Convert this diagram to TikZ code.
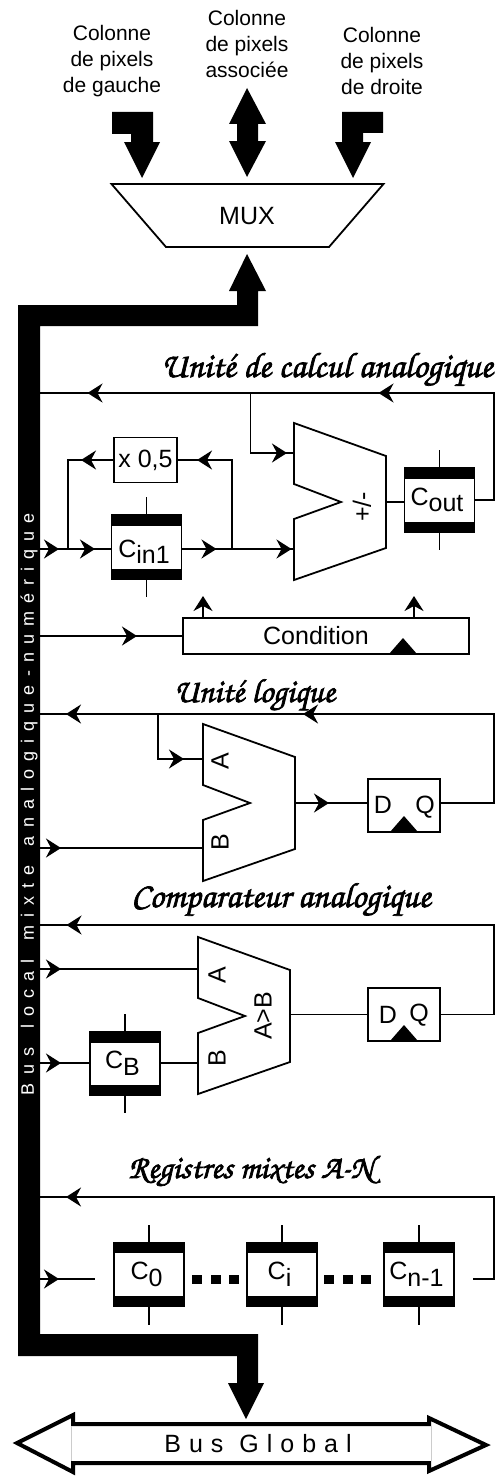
\documentclass[tikz,border=0pt]{standalone}
\usepackage{fontspec}
\usepackage[T1,TU]{fontenc}
\setmainfont{Liberation Sans}
\usetikzlibrary{arrows.meta, positioning, calc, decorations.markings}

\newcommand{\capsub}[2]{#1\raisebox{-6.5pt}{#2}\kern5pt}
\newcommand{\handfont}[1]{\fontencoding{T1}\fontfamily{pzc}\fontseries{mb}\fontshape{it}\fontsize{#1}{36}\selectfont}
\newcommand{\heavy}[1]{\special{pdf:code 2 Tr 0.7 w}#1\special{pdf:code 0 Tr}}
\newcommand{\txtsize}{\fontsize{25}{30}\selectfont}
\newcommand{\spaced}[2]{\spaceskip=#1\relax #2}

\begin{document}
\begin{tikzpicture}[
    x=1pt, y=-1pt,
    wire/.style={line width=1.8pt},
    arrow/.style={wire, -{Stealth[length=15pt, width=19pt, inset=5pt]}},
    tipat/.style={postaction={decorate, decoration={markings, mark=at position #1pt with {\arrow{Stealth[length=15pt, width=19pt, inset=5pt]}}}}},
    blk/.style={fill=black, draw=none},
    unit/.style={line width=1.8pt, line join=miter},
    txt/.style={font=\txtsize, inner sep=0pt},
    toplbl/.style={font=\fontsize{21}{25.7}\selectfont, align=center, inner sep=0pt},
    title/.style={font=\handfont{#1}, inner sep=0pt, anchor=base},
    box/.style={draw, line width=1.8pt, inner sep=0pt, outer sep=0pt, font=\txtsize},
    capa/.style={box, minimum width=70pt, minimum height=64pt, text height=18pt, text depth=8pt},
    dq/.style={box, minimum width=72pt, minimum height=53pt},
    alublock/.pic={
      \draw[unit] (0,0) coordinate (-nw) -- ++(92,33) -- ++(0,92) -- ++(-92,32) coordinate (-sw)
        -- ++(0,-61) -- ++(47,-17) -- ++(-47,-18) -- cycle;
      \coordinate (-e) at (92,79);
    }
  ]
  \useasboundingbox (0,0) rectangle (496,1477);

  % Pixel columns
  \node[toplbl] (colleft) at (112,61) {Colonne\\de pixels\\de gauche};
  \node[toplbl] (colmid) at (247,44) {Colonne\\de pixels\\associée};
  \node[toplbl] (colright) at (382,61) {Colonne\\de pixels\\de droite};
  \fill[blk] (112,112) -- (153,112) -- (153,142) -- (160,142) -- (142,178) -- (124,142) -- (131,142) -- (131,134) -- (112,134) -- cycle;
  \fill[blk] (247,88) -- (266,124) -- (258,124) -- (258,141) -- (266,141) -- (247,177) -- (229,141) -- (237,141) -- (237,124) -- (229,124) -- cycle;
  \fill[blk] (342,112) -- (383,112) -- (383,133) -- (363,133) -- (363,142) -- (371,142) -- (353,178) -- (335,142) -- (342,142) -- cycle;

  % Mux
  \draw[unit] (111.5,184) -- (383.5,184) -- (329,247) -- (166,247) -- cycle;
  \node[txt] (mux) at (247,216) {MUX};

  % Local bus
  \fill[blk] (247,254) -- (266,291) -- (258,291) -- (258,326) -- (40,326) -- (40,1334) -- (258,1334) -- (258,1383) -- (264,1383) -- (246,1419) -- (228,1383) -- (237,1383) -- (237,1356) -- (18,1356) -- (18,305) -- (237,305) -- (237,291) -- (229,291) -- cycle;
  \node[white, rotate=90, inner sep=0pt, font=\fontsize{18}{22}\selectfont\addfontfeature{LetterSpace=45}] (buslocal) at (29,804) {\spaced{19pt}{Bus local mixte analogique-numérique}};

  % Global bus
  \draw[line width=4pt, fill=white] (17,1443) -- (73,1415) -- (73,1424) -- (429,1424) -- (429,1418) -- (486,1445) -- (429,1471) -- (429,1463) -- (73,1463) -- (73,1472) -- cycle;
  \draw[gray!40] (71,1426) -- (71,1461) (431,1426) -- (431,1461);
  \node[txt, font=\txtsize\addfontfeature{LetterSpace=32}] (busglobal) at (258,1444) {\spaced{16pt}{Bus Global}};

  % Analog unit
  \node[title=35.4] (titlecalc) at (327,377) {\heavy{Unité de calcul analogique}};
  \pic (alu1) at (294,423) {alublock};
  \node[txt, rotate=90] (plusminus) at (362,507) {+/-};
  \node[capa, minimum height=64pt, text height=24pt, text depth=4pt] (cin) at (146.5,547) {\capsub{C}{in1}};
  \node[capa] (cout) at (439.5,500) {\capsub{C}{out}};
  \node[box, minimum width=63pt, minimum height=45pt] (half) at (145.5,460) {x 0,5};
  \coordinate (ret1) at (494,393);
  \coordinate (bus1) at (40,393);
  \coordinate (tee1) at (250.5,393);
  \coordinate (bus2) at (40,549);
  \coordinate (tapl) at (68,549);
  \coordinate (tapr) at (232,549);
  \coordinate (port1) at (alu1-nw |- 0,453);
  \draw[wire, tipat=242, tipat=533] (cout.east) -| (ret1) -- (bus1);
  \draw[wire, tipat=96.5] (tee1) |- (port1);
  \draw[wire, tipat=19, tipat=55] (bus2) -- (bus2 -| cin.west);
  \draw[wire, tipat=35, tipat=110] (bus2 -| cin.east) -- (bus2 -| alu1-nw);
  \draw[wire, tipat=33] (half.west) -| (tapl);
  \draw[wire, tipat=124] (tapr) |- (half.east);
  \draw[wire] (alu1-e) -- (alu1-e -| cout.west);

  % Condition
  \node[box, minimum width=286pt, minimum height=36pt] (cond) at (326,636) {};
  \node[txt] (condtxt) at (316,636) {Condition};
  \coordinate (condclk) at (403,654);
  \coordinate (bus3) at (40,636);
  \coordinate (condup1) at (203,596);
  \coordinate (condup2) at (414,596);
  \draw[wire, tipat=97] (bus3) -- (cond.west);
  \draw[arrow] (cond.north -| condup1) -- (condup1);
  \draw[arrow] (cond.north -| condup2) -- (condup2);

  % Logic unit
  \node[title=33.5] (titlelogic) at (254.5,702) {\heavy{Unité logique}};
  \pic (alu2) at (203,724) {alublock};
  \node[txt, rotate=90] (alu2a) at (220,761) {A};
  \node[txt, rotate=90] (alu2b) at (220,842) {B};
  \node[dq] (dq1) at (404,805.5) {};
  \node[txt] (dq1d) at (383,805) {D};
  \node[txt] (dq1q) at (425,807) {Q};
  \coordinate (ret2) at (494,714);
  \coordinate (bus4) at (40,714);
  \coordinate (tee2) at (158,714);
  \coordinate (bus7) at (40,848);
  \coordinate (port2) at (alu2-nw |- 0,759);
  \draw[wire, tipat=334, tipat=571] (dq1.east |- alu2-e) -| (ret2) -- (bus4);
  \draw[wire, tipat=71] (tee2) |- (port2);
  \draw[wire, tipat=21] (bus7) -- (bus7 -| alu2-nw);
  \draw[wire, tipat=34] (alu2-e) -- (alu2-e -| dq1.west);

  % Comparator
  \node[title=35] (titlecomp) at (281,907) {\heavy{Comparateur analogique}};
  \pic (alu3) at (198,937) {alublock};
  \node[txt, rotate=90] (alu3a) at (217,975) {A};
  \node[txt, rotate=90] (alu3b) at (217,1058) {B};
  \node[txt, rotate=90] (alu3c) at (263,1016) {A>B};
  \node[capa, minimum height=63pt] (cb) at (125,1063.5) {\capsub{C}{B}};
  \node[dq] (dq2) at (404,1014.5) {};
  \node[txt] (dq2d) at (388,1015) {D};
  \node[txt] (dq2q) at (419,1015) {Q};
  \coordinate (ret3) at (494,925);
  \coordinate (bus8) at (40,925);
  \coordinate (bus5) at (40,969);
  \coordinate (bus6) at (40,1063);
  \draw[wire, tipat=571] (dq2.east) -| (ret3) -- (bus8);
  \draw[wire, tipat=21] (bus5) -- (bus5 -| alu3-nw);
  \draw[wire, tipat=21] (bus6) -- (bus6 -| cb.west);
  \draw[wire] (bus6 -| cb.east) -- (bus6 -| alu3-nw);
  \draw[wire] (alu3-e |- dq2.west) -- (dq2.west);

  % Registers
  \node[title=32.7] (titlereg) at (251,1178) {\heavy{Registres mixtes A-N}};
  \node[capa] (c0) at (149,1274.5) {\capsub{C}{0}};
  \node[capa, right=63pt of c0] (ci) {\capsub{C}{i}};
  \node[capa, right=67pt of ci] (cn) {\capsub{C}{n-1}};
  \coordinate (ret4) at (494,1197);
  \coordinate (bus9) at (40,1197);
  \coordinate (bus10) at (40,1279);
  \coordinate (c0in) at (95,1279);
  \coordinate (cnout) at (473,1279);
  \draw[wire, tipat=531] (cnout) -| (ret4) -- (bus9);
  \draw[wire, tipat=19] (bus10) -- (c0in);
  \foreach \x in {192,211,229,324,343,361}
    \fill[blk] (\x,1275) rectangle ++(10,9);

  % Capacitor plates and clock marks
  \foreach \c in {cin,cout,cb,c0,ci,cn} {
    \fill[blk] (\c.north west) rectangle ($(\c.north east)+(0,10.5)$);
    \fill[blk] (\c.south west) rectangle ($(\c.south east)+(0,-10.5)$);
    \draw[wire] (\c.north) -- ++(0,-18);
    \draw[wire] (\c.south) -- ++(0,18);
  }
  \foreach \clk in {(condclk),(dq1.south),(dq2.south)}
    \fill[blk] \clk ++(-14,0) -- ++(14,-16) -- ++(14,16) -- cycle;

\end{tikzpicture}
\end{document}
